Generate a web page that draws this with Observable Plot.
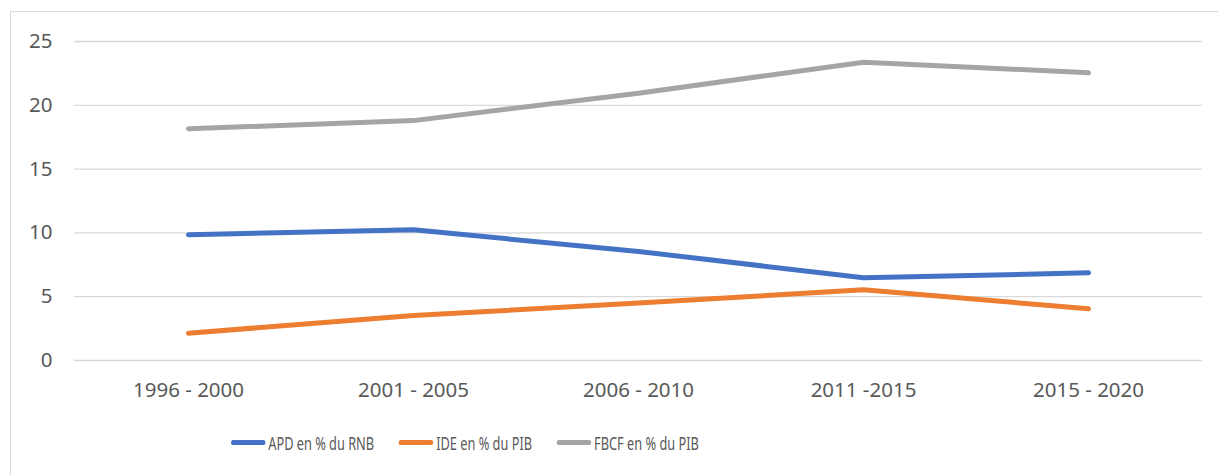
<!DOCTYPE html>
<html>
<head>
<meta charset="utf-8">
<script src="https://cdn.jsdelivr.net/npm/d3@7"></script>
<script src="https://cdn.jsdelivr.net/npm/@observablehq/plot@0.6"></script>
<style>
  html, body { margin: 0; padding: 0; background: #fff; width: 1218px; height: 475px; overflow: hidden; }
  #frame { position: absolute; left: 10px; top: 11px; width: 1400px; height: 600px; border-left: 1px solid #d9d9d9; border-top: 1px solid #d9d9d9; }
  #chart { position: absolute; left: 0; top: 0; }
  #legend { position: absolute; left: 231px; top: 430px; display: flex; align-items: center; gap: 36px;
            transform: scaleX(0.69); transform-origin: 0 0; font-family: "Noto Sans", sans-serif; font-size: 18.5px; color: #595959; white-space: nowrap; }
  .item { display: flex; align-items: center; }
  .sw { display: inline-block; width: 50px; height: 5px; border-radius: 3px; margin-right: 4px; }
</style>
</head>
<body>
<div id="frame"></div>
<div id="chart"></div>
<div id="legend"></div>
<script>
const periods = ["1996 - 2000", "2001 - 2005", "2006 - 2010", "2011 -2015", "2015 - 2020"];
const seriesNames = ["APD en % du RNB", "IDE en % du PIB", "FBCF en % du PIB"];
const apd = [9.85, 10.24, 8.55, 6.48, 6.87];
const ide = [2.14, 3.53, 4.5, 5.54, 4.05];
const fbcf = [18.16, 18.8, 20.95, 23.38, 22.55];
const yTicks = [0, 5, 10, 15, 20, 25];
const colors = ["#4472C4", "#ED7D31", "#A5A5A5"];

const valuesBySeries = [apd, ide, fbcf];
const data = [];
seriesNames.forEach((s, i) => periods.forEach((p, j) => data.push({series: s, period: p, value: valuesBySeries[i][j]})));

const chart = Plot.plot({
  width: 1218,
  height: 410,
  marginLeft: 74,
  marginRight: 16,
  marginTop: 41,
  marginBottom: 50,
  style: {fontFamily: "'Noto Sans', sans-serif", fontSize: "20.5px", color: "#595959", background: "transparent", overflow: "visible"},
  x: {type: "point", domain: periods, padding: 0.5, label: null},
  y: {domain: [0, 25], ticks: yTicks, label: null},
  color: {domain: seriesNames, range: colors},
  marks: [
    Plot.gridY(yTicks, {stroke: "#d9d9d9", strokeOpacity: 1, strokeWidth: 1.3}),
    Plot.axisY(yTicks, {tickSize: 0, tickPadding: 22, fill: "#595959", fontSize: 20.5}),
    Plot.axisX({tickSize: 0, tickPadding: 22, fill: "#595959", fontSize: 20.5}),
    Plot.line(data, {x: "period", y: "value", z: "series", stroke: "series", strokeWidth: 5, strokeLinecap: "round", strokeLinejoin: "round"})
  ]
});
document.getElementById("chart").appendChild(chart);

const legend = document.getElementById("legend");
seriesNames.forEach((s, i) => {
  const item = document.createElement("div");
  item.className = "item";
  const sw = document.createElement("span");
  sw.className = "sw";
  sw.style.background = colors[i];
  const t = document.createElement("span");
  t.textContent = s;
  item.appendChild(sw);
  item.appendChild(t);
  legend.appendChild(item);
});
</script>
</body>
</html>
